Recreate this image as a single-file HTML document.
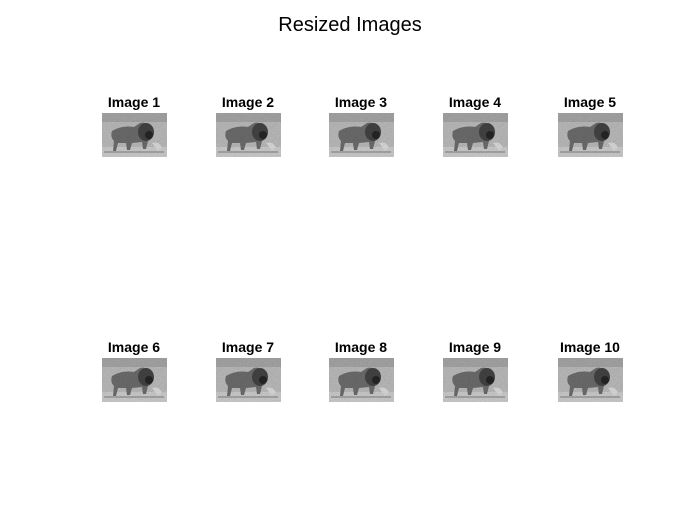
<!DOCTYPE html>
<html><head><meta charset="utf-8">
<style>
body{margin:0;background:#fff;}
#fig{position:relative;width:700px;height:525px;background:#fff;font-family:"Liberation Sans",Arial,sans-serif;}
</style></head>
<body>
<div id="fig">
<svg width="700" height="525" viewBox="0 0 700 525" xmlns="http://www.w3.org/2000/svg">
<defs>
<filter id="grain" x="0" y="0" width="1" height="1">
<feTurbulence type="fractalNoise" baseFrequency="1.3" numOctaves="2" seed="3" result="n"/>
<feColorMatrix type="saturate" values="0" in="n" result="g"/>
<feComponentTransfer in="g" result="g2"><feFuncA type="linear" slope="0" intercept="0.55"/></feComponentTransfer>
<feComposite in="g2" in2="SourceGraphic" operator="in" result="m"/>
<feBlend in="SourceGraphic" in2="m" mode="multiply"/>
</filter>
<g id="lion">
<rect x="0" y="0" width="65" height="44" fill="#cbcbcb"/>
<rect x="0" y="0" width="65" height="9" fill="#b4b4b4"/>
<rect x="0" y="34" width="65" height="10" fill="#dedede"/>
<path d="M10 18 Q20 12 32 14 L38 10 Q46 8 50 16 Q52 24 46 28 L44 36 L41 36 L40 29 L30 30 L28 37 L25 37 L24 30 L16 30 L14 38 L11 38 L12 28 Q8 24 10 18Z" fill="#767676"/>
<ellipse cx="44" cy="19" rx="8" ry="9" fill="#4a4a4a"/>
<ellipse cx="47" cy="22" rx="4" ry="4" fill="#2a2a2a"/>
<path d="M50 30 Q56 28 60 34 L56 38 Z" fill="#eeeeee"/>
<rect x="2" y="38" width="60" height="2" fill="#9a9a9a" opacity="0.6"/>
</g>
</defs>
<text x="350" y="31" text-anchor="middle" font-size="20" fill="#000">Resized Images</text>
<g id="panels"></g>
</svg>
</div>
<script>
const labels = ["Image 1","Image 2","Image 3","Image 4","Image 5","Image 6","Image 7","Image 8","Image 9","Image 10"];
const colCenters = [134, 248, 361, 475, 590];
const rowTops = [113, 358];
const g = document.getElementById('panels');
const NS = "http://www.w3.org/2000/svg";
labels.forEach((lab, i) => {
  const cx = colCenters[i % 5], top = rowTops[Math.floor(i / 5)];
  const grp = document.createElementNS(NS, 'g');
  
  
  const t = document.createElementNS(NS, 'text');
  
  
  t.setAttribute('x', cx); t.setAttribute('y', top - 6);
  t.setAttribute('text-anchor', 'middle');
  t.setAttribute('font-size', '14'); t.setAttribute('font-weight', 'bold');
  t.textContent = lab;
  const u = document.createElementNS(NS, 'use');
  
  
  u.setAttribute('href', '#lion');
  u.setAttribute('x', cx - 32); u.setAttribute('y', top);
  u.setAttribute('filter', 'url(#grain)');
  grp.appendChild(t); grp.appendChild(u);
  g.appendChild(grp);
});
</script>
</body></html>
